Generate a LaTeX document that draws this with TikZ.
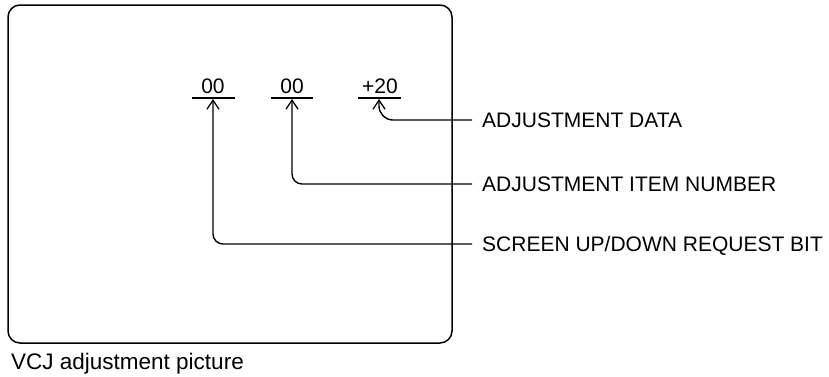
\documentclass[tikz,border=0pt]{standalone}
\usepackage{fontspec}
\setmainfont{Liberation Sans}
\usetikzlibrary{arrows.meta}
\begin{document}
\begin{tikzpicture}[x=1pt,y=-1pt,
  txt/.style={inner sep=0pt,font=\fontsize{21}{25}\selectfont},
  num/.style={inner xsep=0pt,inner ysep=0pt,minimum width=43pt,anchor=base,font=\fontsize{21}{25}\selectfont},
  uline/.style={line width=1.5pt},
  conn/.style={line width=1.4pt,-{Straight Barb[length=9pt,width=12pt,line width=1.3pt]}},
  frame/.style={line width=1.5pt,rounded corners=12pt}]
\useasboundingbox (0,0) rectangle (829,376);
\draw[frame] (8,5) rectangle (452,343);
% numbers
\node[num] (n1) at (213,93) {00};
\node[num] (n2) at (292,93) {00};
\node[num] (n3) at (380,93) {+20};
\draw[uline] (192,98) -- (235,98);
\draw[uline] (271,98) -- (313,98);
\draw[uline] (358,98) -- (401,98);
\coordinate (t1) at (213,99);
\coordinate (t2) at (292,99);
\coordinate (t3) at (379,99);
% labels
\node[txt,anchor=base west] (l3) at (482,127.5) {ADJUSTMENT DATA};
\node[txt,anchor=base west] (l2) at (482,191.5) {ADJUSTMENT ITEM NUMBER};
\node[txt,anchor=base west] (l1) at (482,251.5) {SCREEN UP/DOWN REQUEST BIT};
\coordinate (e3) at (472,120);
\coordinate (e2) at (472,184);
\coordinate (e1) at (472,244);
% connectors
\draw[conn,rounded corners=14pt] (e3) -| (t3);
\draw[conn,rounded corners=10pt] (e2) -| (t2);
\draw[conn,rounded corners=10pt] (e1) -| (t1);
% caption
\node[txt,anchor=base west,font=\fontsize{22.5}{26}\selectfont] (cap) at (11,369) {VCJ adjustment picture};
\end{tikzpicture}
\end{document}
